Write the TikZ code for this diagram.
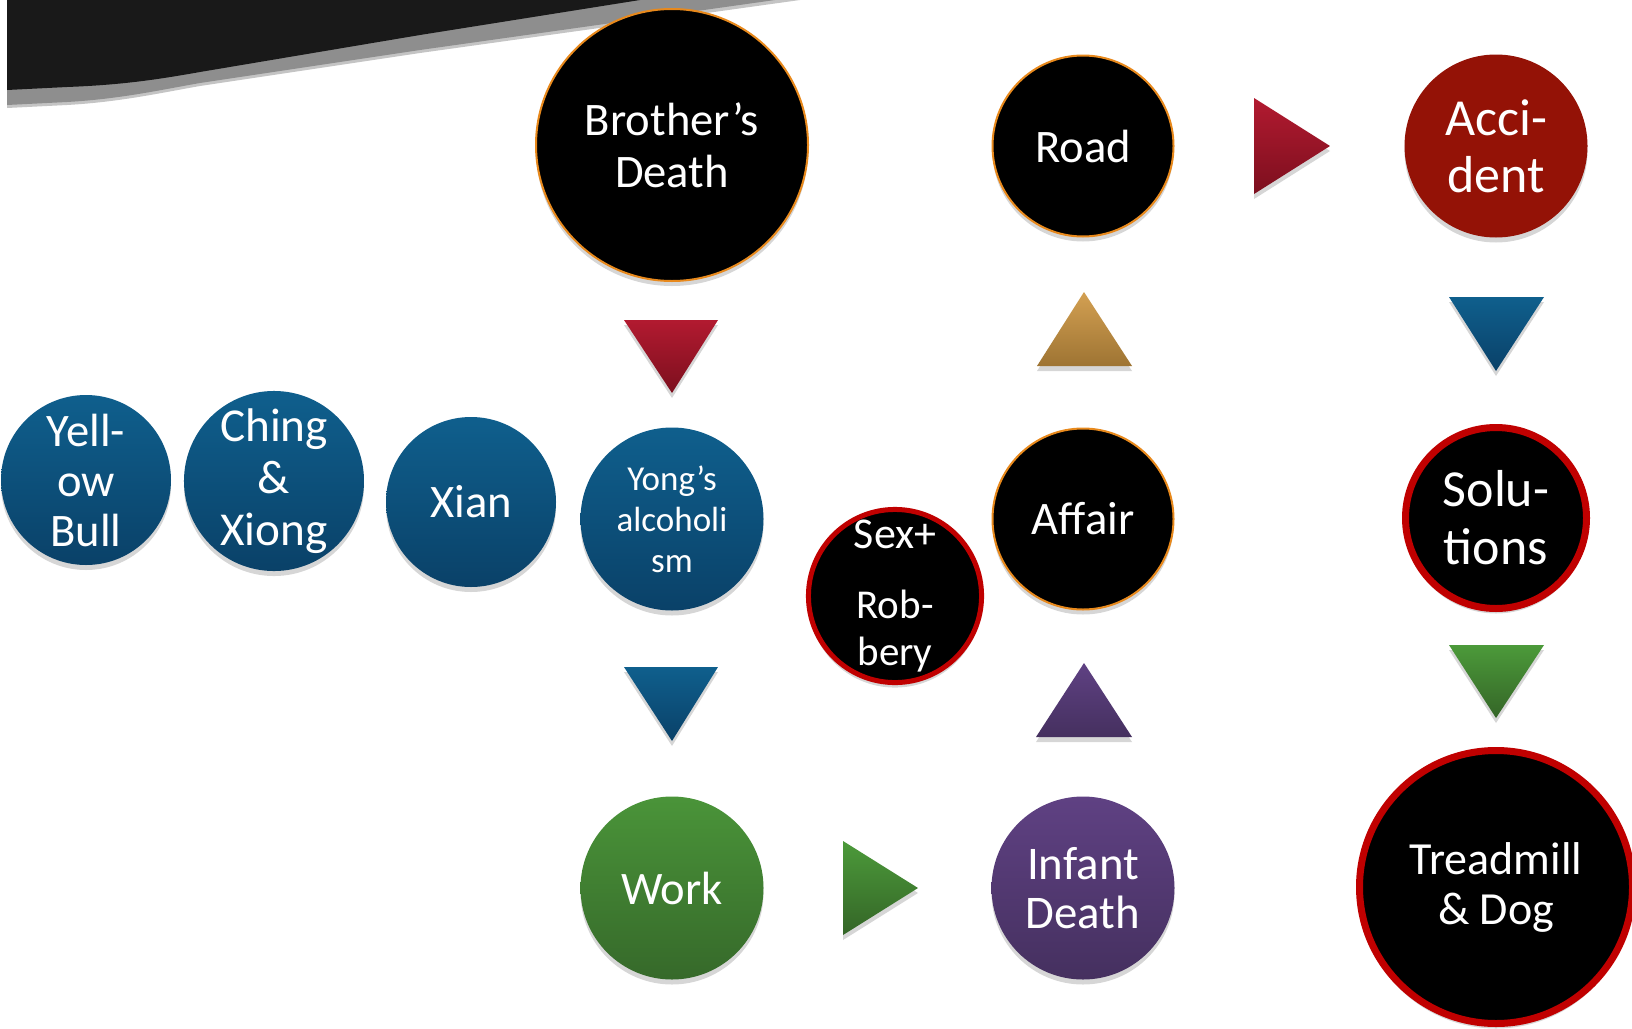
\documentclass[tikz,border=0pt]{standalone}
\usepackage{fontspec}
\setmainfont{Carlito}
\usetikzlibrary{shadows}
\definecolor{bandblack}{HTML}{191919}
\definecolor{bandgray}{HTML}{8E8E8E}
\definecolor{bandlight}{HTML}{C4C4C4}
\definecolor{blueT}{HTML}{0F5F8D}
\definecolor{blueB}{HTML}{0A4168}
\definecolor{greenT}{HTML}{4A9439}
\definecolor{greenB}{HTML}{36692A}
\definecolor{purpT}{HTML}{5F4183}
\definecolor{purpB}{HTML}{45305F}
\definecolor{accRed}{HTML}{941206}
\definecolor{redT}{HTML}{B21A30}
\definecolor{redB}{HTML}{7C0F1E}
\definecolor{goldT}{HTML}{D3A052}
\definecolor{goldB}{HTML}{9E7433}
\definecolor{gtriT}{HTML}{4C9A3A}
\definecolor{gtriB}{HTML}{346527}
\definecolor{orangeB}{HTML}{E8891C}
\definecolor{redBorder}{HTML}{C00000}
\tikzset{
  softshadow/.style={drop shadow={opacity=0.16, fill=black, shadow xshift=0pt, shadow yshift=-2.5pt}},
  circ/.style={circle, inner sep=0pt, align=center, text=white, softshadow,
    font=\fontsize{23.3}{26}\selectfont},
  bluec/.style={circ, top color=blueT, bottom color=blueB},
  greenc/.style={circ, top color=greenT, bottom color=greenB},
  purpc/.style={circ, top color=purpT, bottom color=purpB},
  blackor/.style={circ, fill=black, draw=orangeB, line width=1pt},
  blackred/.style={circ, fill=black, draw=redBorder},
  tri/.style={softshadow},
}
\begin{document}
\begin{tikzpicture}[x=0.5pt,y=-0.5pt]
\useasboundingbox (0,0) rectangle (1632,1028);
\clip (0,0) rectangle (1632,1028);
\fill[white] (0,0) rectangle (1632,1028);

% top band
\fill[bandlight] (7,0) -- (7,108) -- (67,105) .. controls (120,102) and (160,93) .. (200,86) -- (420,53) -- (800,0) -- cycle;
\fill[bandgray] (7,0) -- (7,105) -- (67,102) .. controls (120,99) and (160,90) .. (200,83) -- (420,50) -- (775,0) -- cycle;
\fill[bandblack] (7,0) -- (7,90) -- (67,87) .. controls (120,85) and (155,80) .. (200,72) -- (420,35) -- (640,0) -- cycle;

% circles
\node[blackor, minimum size=136pt] (bd) at (672,145) {Brother’s\\Death};
\node[blackor, minimum size=90.5pt] (road) at (1083,146) {Road};
\node[circ, fill=accRed, minimum size=91.5pt, font=\fontsize{26}{28.5}\selectfont] (acc) at (1496,146) {Acci-\\dent};

\node[bluec, minimum size=85pt, font=\fontsize{23.3}{25}\selectfont] (yb) at (86,480) {Yell-\\ow\\Bull};
\node[bluec, minimum size=86pt, font=\fontsize{23.6}{26}\selectfont] (cx) at (274,481) {Ching\\\&\\Xiong};
\node[bluec, minimum size=85pt] (xian) at (471,502) {Xian};
\node[bluec, minimum size=91.5pt, font=\fontsize{17.5}{20.5}\selectfont] (yong) at (672,519) {Yong’s\\alcoholi\\sm};
\node[blackred, line width=2.5pt, minimum size=84.5pt, font=\fontsize{20.5}{23.5}\selectfont] (sr) at (895,596) {{\fontsize{22}{23.5}\selectfont Sex+}\\[11.5pt]Rob-\\bery};
\node[blackor, minimum size=90.5pt] (affair) at (1083,519) {Affair};
\node[blackred, line width=3.5pt, minimum size=90.5pt, font=\fontsize{26}{29}\selectfont] (sol) at (1496,518) {Solu-\\tions};

\node[greenc, minimum size=91.5pt] (work) at (672,888) {Work};
\node[purpc, minimum size=91.5pt, font=\fontsize{23.4}{24.5}\selectfont] (inf) at (1083,888) {Infant\\Death};
\node[blackred, line width=3.5pt, minimum size=136.5pt, font=\fontsize{23}{25}\selectfont] (tread) at (1496,887) {Treadmill\\\& Dog};

% triangles
\shade[tri, top color=redT, bottom color=redB] (1254,98) -- (1254,194) -- (1330,146) -- cycle;
\shade[tri, top color=redT, bottom color=redB] (624,320) -- (718,320) -- (672,393) -- cycle;
\shade[tri, top color=goldT, bottom color=goldB] (1084,292) -- (1037,366) -- (1132,366) -- cycle;
\shade[tri, top color=blueT, bottom color=blueB] (1449,297) -- (1544,297) -- (1496,371) -- cycle;
\shade[tri, top color=blueT, bottom color=blueB] (624,667) -- (718,667) -- (672,741) -- cycle;
\shade[tri, top color=purpT, bottom color=purpB] (1084,663) -- (1036,737) -- (1132,737) -- cycle;
\shade[tri, top color=gtriT, bottom color=gtriB] (1449,645) -- (1544,645) -- (1496,718) -- cycle;
\shade[tri, top color=gtriT, bottom color=gtriB] (843,841) -- (843,935) -- (918,888) -- cycle;
\end{tikzpicture}
\end{document}
